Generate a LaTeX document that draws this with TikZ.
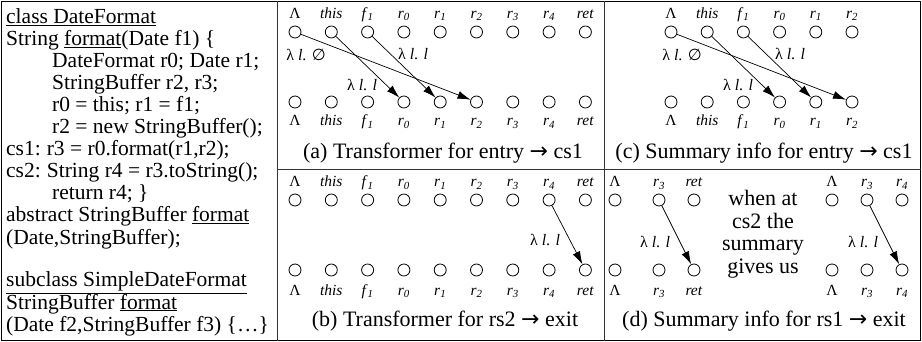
\documentclass[tikz,border=0pt]{standalone}
\usepackage{fontspec}
\setmainfont{Liberation Serif}
\newfontfamily\symfont{DejaVu Sans}
\usetikzlibrary{arrows.meta}
\newcommand\vv[2]{\textit{#1}\textsubscript{\textit{#2}}}
\newcommand\lamlab[1]{λ \textit{l}. #1}
\begin{document}
\begin{tikzpicture}[x=1pt,y=-1pt,
  vc/.style={circle,draw,minimum size=12pt,inner sep=0pt,line width=0.8pt},
  lab/.style={font=\fontsize{15.5}{15.5}\selectfont,anchor=base,inner sep=0pt},
  code/.style={font=\fontsize{21.5}{22}\selectfont,anchor=base west,inner sep=0pt},
  captext/.style={font=\fontsize{22}{22}\selectfont,anchor=base,inner sep=0pt},
  lam/.style={font=\fontsize{16}{16}\selectfont,inner sep=0pt},
  arr/.style={-{Latex[length=13pt,width=8pt]},line width=0.7pt},
  frame/.style={line width=1.4pt},
  divider/.style={line width=0.9pt,black!80}
]
\useasboundingbox (0,0) rectangle (922,342);
\draw[frame] (1.5,1.5) rectangle (920.5,340.5);
\draw[divider] (277,1.5) -- (277,340.5);
\draw[divider] (604,1.5) -- (604,340.5);
\draw[divider] (277,169.5) -- (920.5,169.5);

% code column
\node[code] (c0) at (6,24) {\underline{class DateFormat}};
\node[code] (c1) at (6,46) {String \underline{format}(Date f1) \{};
\node[code] (c2) at (52,68) {DateFormat r0; Date r1;};
\node[code] (c3) at (52,90) {StringBuffer r2, r3;};
\node[code] (c4) at (52,112) {r0 = this; r1 = f1;};
\node[code] (c5) at (52,134) {r2 = new StringBuffer();};
\node[code] (c6) at (6,156) {cs1:\hspace{6pt}r3 = r0.format(r1,r2);};
\node[code] (c7) at (6,178) {cs2:\hspace{6pt}String r4 = r3.toString();};
\node[code] (c8) at (52,200) {return r4; \}};
\node[code] (c9) at (6,222) {abstract StringBuffer \underline{format}};
\node[code] (c10) at (6,244) {(Date,StringBuffer);};
\node[code] (c12) at (6,287) {\underline{subclass SimpleDateFormat}};
\node[code] (c13) at (6,309) {StringBuffer \underline{format}};
\node[code] (c14) at (6,331) {(Date f2,StringBuffer f3) \{…\}};

% panel (a)
\foreach \k/\lab in {0/Λ,1/\textit{this},2/\vv{f}{1},3/\vv{r}{0},4/\vv{r}{1},5/\vv{r}{2},6/\vv{r}{3},7/\vv{r}{4},8/\textit{ret}}{
  \pgfmathsetmacro\xx{295+36.3*\k}
  \node[vc] (a-t-\k) at (\xx,32) {};
  \node[vc] (a-b-\k) at (\xx,102) {};
  \node[lab] (a-tl-\k) at (\xx,18.5) {\lab};
  \node[lab] (a-bl-\k) at (\xx,126) {\lab};
}
\draw[arr] (a-t-0) -- (a-b-5);
\draw[arr] (a-t-1) -- (a-b-3);
\draw[arr] (a-t-2) -- (a-b-4);
\node[lam] (a-l0) at (306,55) {\lamlab{{\symfont ∅}}};
\node[lam] (a-l1) at (362,85) {\lamlab{\textit{l}}};
\node[lam] (a-l2) at (413,54) {\lamlab{\textit{l}}};
\node[captext] (a-cap) at (443,159) {(a) Transformer for entry {\symfont →} cs1};

% panel (b)
\foreach \k/\lab in {0/Λ,1/\textit{this},2/\vv{f}{1},3/\vv{r}{0},4/\vv{r}{1},5/\vv{r}{2},6/\vv{r}{3},7/\vv{r}{4},8/\textit{ret}}{
  \pgfmathsetmacro\xx{295+36.3*\k}
  \node[vc] (b-t-\k) at (\xx,200) {};
  \node[vc] (b-b-\k) at (\xx,270) {};
  \node[lab] (b-tl-\k) at (\xx,187) {\lab};
  \node[lab] (b-bl-\k) at (\xx,295) {\lab};
}
\draw[arr] (b-t-7) -- (b-b-8);
\node[lam] (b-l0) at (545,240) {\lamlab{\textit{l}}};
\node[captext] (b-cap) at (445,326) {(b) Transformer for rs2 {\symfont →} exit};

% panel (c)
\foreach \k/\lab in {0/Λ,1/\textit{this},2/\vv{f}{1},3/\vv{r}{0},4/\vv{r}{1},5/\vv{r}{2}}{
  \pgfmathsetmacro\xx{671+36.2*\k}
  \node[vc] (c-t-\k) at (\xx,32) {};
  \node[vc] (c-b-\k) at (\xx,102) {};
  \node[lab] (c-tl-\k) at (\xx,18.5) {\lab};
  \node[lab] (c-bl-\k) at (\xx,126) {\lab};
}
\draw[arr] (c-t-0) -- (c-b-5);
\draw[arr] (c-t-1) -- (c-b-3);
\draw[arr] (c-t-2) -- (c-b-4);
\node[lam] (c-l0) at (682,55) {\lamlab{{\symfont ∅}}};
\node[lam] (c-l1) at (738,85) {\lamlab{\textit{l}}};
\node[lam] (c-l2) at (790,54) {\lamlab{\textit{l}}};
\node[captext] (c-cap) at (764,159) {(c) Summary info for entry {\symfont →} cs1};

% panel (d)
\foreach \k/\xx/\lab in {0/615/Λ,1/659/\vv{r}{3},2/694/\textit{ret},3/832/Λ,4/867/\vv{r}{3},5/902/\vv{r}{4}}{
  \node[vc] (d-t-\k) at (\xx,200) {};
  \node[vc] (d-b-\k) at (\xx,270) {};
  \node[lab] (d-tl-\k) at (\xx,187) {\lab};
  \node[lab] (d-bl-\k) at (\xx,295) {\lab};
}
\draw[arr] (d-t-1) -- (d-b-2);
\draw[arr] (d-t-4) -- (d-b-5);
\node[lam] (d-l0) at (655,242) {\lamlab{\textit{l}}};
\node[lam] (d-l1) at (863,242) {\lamlab{\textit{l}}};
\node[captext] (d-w1) at (763,206) {when at};
\node[captext] (d-w2) at (763,228.5) {cs2 the};
\node[captext] (d-w3) at (763,251) {summary};
\node[captext] (d-w4) at (763,273.5) {gives us};
\node[captext] (d-cap) at (764,326) {(d) Summary info for rs1 {\symfont →} exit};
\end{tikzpicture}
\end{document}
